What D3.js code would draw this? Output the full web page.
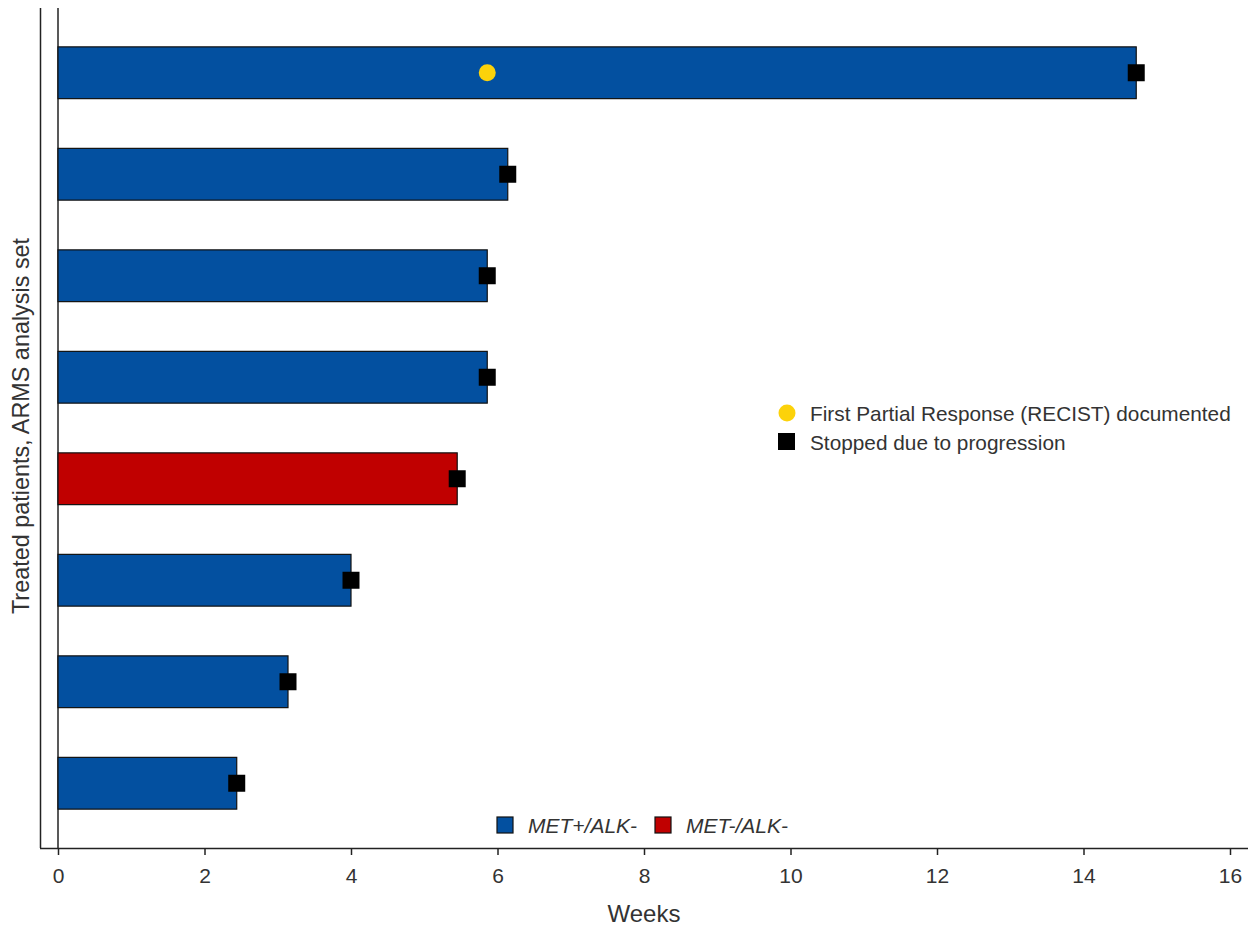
<!DOCTYPE html>
<html><head><meta charset="utf-8">
<script src="https://cdn.jsdelivr.net/npm/d3@7"></script>
<style>body{margin:0;background:#fff}text{font-family:"Liberation Sans",Arial,sans-serif;fill:#333}</style>
</head><body><svg id="c" width="1254" height="929"></svg>
<script>
const patients = ["P1","P2","P3","P4","P5","P6","P7","P8"];
const weeks = [14.72, 6.14, 5.86, 5.86, 5.45, 4.0, 3.14, 2.44];
const groups = ["MET+/ALK-","MET+/ALK-","MET+/ALK-","MET+/ALK-","MET-/ALK-","MET+/ALK-","MET+/ALK-","MET+/ALK-"];
const progression = [14.72, 6.14, 5.86, 5.86, 5.45, 4.0, 3.14, 2.44];
const partialResponse = [5.86, null, null, null, null, null, null, null];
const groupNames = ["MET+/ALK-","MET-/ALK-"];
const groupColors = ["#0350a0","#c00000"];
const xTicks = [0,2,4,6,8,10,12,14,16];

const svg = d3.select("#c");
const x = d3.scaleLinear().domain([0,16]).range([58,1230]);
const y = d3.scaleBand().domain(patients).range([22,834]).paddingInner(0.49).paddingOuter(0.245);
const color = d3.scaleOrdinal().domain(groupNames).range(groupColors);

// axes frame
svg.append("line").attr("x1",40.5).attr("x2",40.5).attr("y1",8).attr("y2",848).attr("stroke","#222").attr("stroke-width",1.5);
svg.append("line").attr("x1",x(0)).attr("x2",x(0)).attr("y1",8).attr("y2",848).attr("stroke","#222").attr("stroke-width",1.5);

const xa = svg.append("g").attr("transform","translate(0,848)")
  .call(d3.axisBottom(x).tickValues(xTicks).tickSize(7).tickPadding(13).tickFormat(d3.format("d")));
xa.select(".domain").remove();
xa.selectAll(".tick line").attr("stroke","#222").attr("stroke-width",1.5);
xa.selectAll(".tick text").style("font-size","21px").attr("fill","#333");
svg.append("line").attr("x1",40).attr("x2",1248).attr("y1",848.5).attr("y2",848.5).attr("stroke","#222").attr("stroke-width",1.5);

// bars
svg.append("g").selectAll("rect").data(patients).join("rect")
  .attr("x",x(0)).attr("y",d=>y(d))
  .attr("width",(d,i)=>x(weeks[i])-x(0)).attr("height",y.bandwidth())
  .attr("fill",(d,i)=>color(groups[i])).attr("stroke","#111").attr("stroke-width",1.2);

// progression markers
const ms = 17;
svg.append("g").selectAll("rect").data(patients).join("rect")
  .attr("x",(d,i)=>x(progression[i])-ms/2).attr("y",d=>y(d)+y.bandwidth()/2-ms/2)
  .attr("width",ms).attr("height",ms).attr("fill","#000");

// partial response markers
svg.append("g").selectAll("circle").data(patients.filter((d,i)=>partialResponse[i]!=null)).join("circle")
  .attr("cx",d=>x(partialResponse[patients.indexOf(d)])).attr("cy",d=>y(d)+y.bandwidth()/2)
  .attr("r",8.5).attr("fill","#fcd20a");

// axis labels
svg.append("text").attr("x",644).attr("y",922).attr("text-anchor","middle").style("font-size","24px").text("Weeks");
svg.append("text").attr("transform","translate(29,426) rotate(-90)").attr("text-anchor","middle").style("font-size","23.4px").text("Treated patients, ARMS analysis set");

// marker legend
svg.append("circle").attr("cx",787).attr("cy",413).attr("r",8.5).attr("fill","#fcd20a");
svg.append("rect").attr("x",778).attr("y",433).attr("width",17).attr("height",17).attr("fill","#000");
svg.append("text").attr("x",810).attr("y",421).style("font-size","20.8px").text("First Partial Response (RECIST) documented");
svg.append("text").attr("x",810).attr("y",450).style("font-size","20.8px").text("Stopped due to progression");

// group legend
const lx = [497, 655];
groupNames.forEach((g,i)=>{
  svg.append("rect").attr("x",lx[i]).attr("y",817).attr("width",16).attr("height",16).attr("fill",color(g)).attr("stroke","#111").attr("stroke-width",1.2);
  svg.append("text").attr("x",lx[i]+31).attr("y",833).style("font-size","21px").style("font-style","italic").text(g);
});
</script></body></html>
